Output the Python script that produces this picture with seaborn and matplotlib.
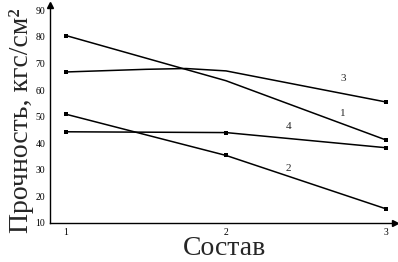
import numpy as np
import pandas as pd
import seaborn as sns
import matplotlib.pyplot as plt

# values
x_pts = [1, 2, 3]
curve1 = [80.5, 63.5, 41.2]
curve2 = [50.9, 35.4, 15.3]
curve4 = [44.3, 44.0, 38.3]
# curve 3 is drawn smooth, extra points read along the line
x3 = [1, 1.25, 1.5, 1.75, 2, 3]
curve3 = [66.8, 67.3, 67.8, 68.1, 67.2, 55.5]
curve3_pts = [66.8, 67.2, 55.5]

yticks = [10, 20, 30, 40, 50, 60, 70, 80, 90]
xticks = [1, 2, 3]

sns.set_style('white')
plt.rcParams['font.family'] = ['Liberation Serif', 'DejaVu Serif']

fig = plt.figure(figsize=(3.98, 2.62), dpi=100)
ax = fig.add_axes([0.1256, 0.149, 0.867, 0.832])

df = pd.concat([
    pd.DataFrame({'x': x_pts, 'y': curve1, 'c': '1'}),
    pd.DataFrame({'x': x_pts, 'y': curve2, 'c': '2'}),
    pd.DataFrame({'x': x3, 'y': curve3, 'c': '3'}),
    pd.DataFrame({'x': x_pts, 'y': curve4, 'c': '4'}),
])
pts = pd.concat([
    pd.DataFrame({'x': x_pts, 'y': curve1}),
    pd.DataFrame({'x': x_pts, 'y': curve2}),
    pd.DataFrame({'x': x_pts, 'y': curve3_pts}),
    pd.DataFrame({'x': x_pts, 'y': curve4}),
])
# no visible marker at x=2 for curves 1 and 3
pts = pts[~((pts['x'] == 2) & (pts['y'].isin([curve1[1], curve3_pts[1]])))]

sns.lineplot(data=df, x='x', y='y', units='c', estimator=None, color='black',
             lw=1.1, ax=ax, sort=False)
sns.scatterplot(data=pts, x='x', y='y', marker='s', s=10, color='black',
                edgecolor='black', linewidth=0, ax=ax, zorder=5)

# curve numbers
labels = ['3', '1', '4', '2']
lab_x = [2.73, 2.73, 2.39, 2.39]
lab_y = [64.5, 51.3, 46.4, 30.6]
for t, lx, ly in zip(labels, lab_x, lab_y):
    ax.text(lx, ly, t, fontsize=8, ha='center', va='center')

ax.set_xlim(0.9, 3.056)
ax.set_ylim(10, 92)
ax.set_xticks(xticks)
ax.set_yticks(yticks)
ax.set_xticklabels([str(v) for v in xticks], fontsize=7)
ax.set_yticklabels([str(v) for v in yticks], fontsize=7)
ax.tick_params(direction='inout', length=5, width=0.8, pad=1, colors='black')

for s in ['top', 'right']:
    ax.spines[s].set_visible(False)
for s in ['left', 'bottom']:
    ax.spines[s].set_color('black')
    ax.spines[s].set_linewidth(1.0)

# axis arrows
ax.plot(1, 0, '>', color='black', ms=4, transform=ax.transAxes, clip_on=False)
ax.plot(0, 1, '^', color='black', ms=4, transform=ax.transAxes, clip_on=False)

ax.set_xlabel('Состав', fontsize=20)
ax.set_ylabel('Прочность, кгс/см²', fontsize=20)
ax.xaxis.set_label_coords(0.507, -0.06)
ax.yaxis.set_label_coords(-0.046, 0.47)

plt.savefig('out.png', dpi=100)
plt.close()
